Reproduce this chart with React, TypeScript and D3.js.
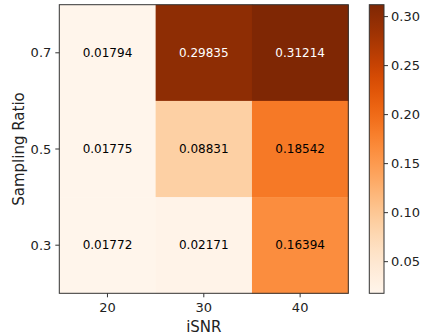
import React, { useEffect, useRef } from 'react';
import * as d3 from 'd3';

const snrLevels = ['20', '30', '40'];
const samplingRatios = ['0.7', '0.5', '0.3'];
// rows follow samplingRatios (top to bottom), columns follow snrLevels
const errorValues = [
  [0.01794, 0.29835, 0.31214],
  [0.01775, 0.08831, 0.18542],
  [0.01772, 0.02171, 0.16394],
];
const colorbarTicks = [0.05, 0.1, 0.15, 0.2, 0.25, 0.3];

const W = 427;
const H = 336;
const FONT = '"DejaVu Sans", sans-serif';

export default function App() {
  const ref = useRef<SVGSVGElement>(null);

  useEffect(() => {
    const svg = d3.select(ref.current);
    svg.selectAll('*').remove();

    const left = 59.3, top = 4.7, right = 348.3, bottom = 293.3;
    const flat = errorValues.flat();
    const vmin = d3.min(flat) as number;
    const vmax = d3.max(flat) as number;
    const color = d3.scaleSequential(d3.interpolateOranges).domain([vmin, vmax]);

    const x = d3.scaleBand().domain(snrLevels).range([left, right]);
    const y = d3.scaleBand().domain(samplingRatios).range([top, bottom]);

    const cells = errorValues.flatMap((row, r) =>
      row.map((v, c) => ({ v, snr: snrLevels[c], ratio: samplingRatios[r] }))
    );

    const g = svg.append('g');
    g.selectAll('rect.cell')
      .data(cells)
      .enter()
      .append('rect')
      .attr('class', 'cell')
      .attr('x', d => x(d.snr)!)
      .attr('y', d => y(d.ratio)!)
      .attr('width', x.bandwidth() + 0.5)
      .attr('height', y.bandwidth() + 0.5)
      .attr('fill', d => color(d.v));

    g.selectAll('text.val')
      .data(cells)
      .enter()
      .append('text')
      .attr('x', d => x(d.snr)! + x.bandwidth() / 2)
      .attr('y', d => y(d.ratio)! + y.bandwidth() / 2)
      .attr('dy', '0.35em')
      .attr('text-anchor', 'middle')
      .attr('font-family', FONT)
      .attr('font-size', 12)
      .attr('fill', d => (d.v > 0.25 ? '#fff' : '#000'))
      .text(d => d.v.toFixed(5));

    g.append('rect')
      .attr('x', left)
      .attr('y', top)
      .attr('width', right - left)
      .attr('height', bottom - top)
      .attr('fill', 'none')
      .attr('stroke', '#333')
      .attr('stroke-width', 1);

    // x axis
    const xa = g.append('g');
    snrLevels.forEach(s => {
      const cx = x(s)! + x.bandwidth() / 2;
      xa.append('line').attr('x1', cx).attr('x2', cx).attr('y1', bottom).attr('y2', bottom + 4).attr('stroke', '#333');
      xa.append('text').attr('x', cx).attr('y', bottom + 19).attr('text-anchor', 'middle')
        .attr('font-family', FONT).attr('font-size', 13).attr('fill', '#222').text(s);
    });
    g.append('text').attr('x', (left + right) / 2).attr('y', 332).attr('text-anchor', 'middle')
      .attr('font-family', FONT).attr('font-size', 15).attr('fill', '#222').text('iSNR');

    // y axis
    samplingRatios.forEach(s => {
      const cy = y(s)! + y.bandwidth() / 2;
      g.append('line').attr('x1', left - 4).attr('x2', left).attr('y1', cy).attr('y2', cy).attr('stroke', '#333');
      g.append('text').attr('x', left - 8).attr('y', cy).attr('dy', '0.35em').attr('text-anchor', 'end')
        .attr('font-family', FONT).attr('font-size', 13).attr('fill', '#222').text(s);
    });
    g.append('text')
      .attr('transform', `translate(24,${(top + bottom) / 2}) rotate(-90)`)
      .attr('text-anchor', 'middle')
      .attr('font-family', FONT).attr('font-size', 15).attr('fill', '#222').text('Sampling Ratio');

    // colorbar
    const cbL = 369.3, cbR = 384;
    const cy = d3.scaleLinear().domain([vmin, vmax]).range([bottom, top]);
    const defs = svg.append('defs');
    const grad = defs.append('linearGradient').attr('id', 'cbgrad')
      .attr('x1', 0).attr('x2', 0).attr('y1', 1).attr('y2', 0);
    d3.range(0, 1.0001, 0.05).forEach(t => {
      grad.append('stop').attr('offset', t).attr('stop-color', color(vmin + t * (vmax - vmin)));
    });
    g.append('rect').attr('x', cbL).attr('y', top).attr('width', cbR - cbL).attr('height', bottom - top)
      .attr('fill', 'url(#cbgrad)').attr('stroke', '#333');
    colorbarTicks.forEach(t => {
      g.append('line').attr('x1', cbR).attr('x2', cbR + 4).attr('y1', cy(t)).attr('y2', cy(t)).attr('stroke', '#333');
      g.append('text').attr('x', cbR + 7).attr('y', cy(t)).attr('dy', '0.35em')
        .attr('font-family', FONT).attr('font-size', 13).attr('fill', '#222').text(t.toFixed(2));
    });
  }, []);

  return (
    <svg
      ref={ref}
      width={W}
      height={H}
      style={{ position: 'absolute', left: 0, top: 0, background: '#fff' }}
    />
  );
}
